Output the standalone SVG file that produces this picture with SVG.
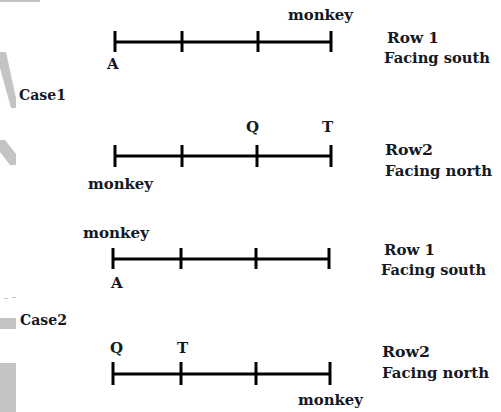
<svg xmlns="http://www.w3.org/2000/svg" width="501" height="412" viewBox="0 0 501 412">
  <style>
    .lbl { font-family: "DejaVu Serif", "Liberation Serif", serif; font-weight: bold; font-size: 15px; fill: #141824; }
    .row { stroke: #000; stroke-width: 3; fill: none; }
    .tick { stroke: #000; stroke-width: 3; }
    .smudge { fill: #c4c4c4; }
  </style>
  <rect width="501" height="412" fill="#fff"/>

  <!-- grey scan marks along the left edge -->
  <g id="edge-marks">
    <rect class="smudge" x="0" y="0" width="40" height="2"/>
    <polygon class="smudge" points="0,52 6,52 16,98 16,108 11,108 0,68"/>
    <polygon class="smudge" points="0,140 5,140 16,154 16,165 10,165 0,152"/>
    <rect class="smudge" x="4" y="298" width="4" height="1"/>
    <rect class="smudge" x="12" y="297" width="4" height="1"/>
    <rect class="smudge" x="0" y="318" width="16" height="11"/>
    <rect class="smudge" x="0" y="363" width="16" height="49"/>
  </g>

  <!-- seat lines with position ticks -->
  <g id="connectors">
    <g id="case1-row1-line">
      <line class="row" x1="115" y1="42" x2="331" y2="42"/>
      <line class="tick" x1="115" y1="31" x2="115" y2="52"/>
      <line class="tick" x1="182" y1="31" x2="182" y2="52"/>
      <line class="tick" x1="258" y1="31" x2="258" y2="52"/>
      <line class="tick" x1="331" y1="31" x2="331" y2="52"/>
    </g>
    <g id="case1-row2-line">
      <line class="row" x1="115" y1="156" x2="331" y2="156"/>
      <line class="tick" x1="115" y1="145" x2="115" y2="167"/>
      <line class="tick" x1="182" y1="145" x2="182" y2="167"/>
      <line class="tick" x1="257" y1="145" x2="257" y2="167"/>
      <line class="tick" x1="331" y1="145" x2="331" y2="167"/>
    </g>
    <g id="case2-row1-line">
      <line class="row" x1="113" y1="259" x2="329" y2="259"/>
      <line class="tick" x1="113" y1="248" x2="113" y2="269"/>
      <line class="tick" x1="181" y1="248" x2="181" y2="269"/>
      <line class="tick" x1="256" y1="248" x2="256" y2="269"/>
      <line class="tick" x1="329" y1="248" x2="329" y2="269"/>
    </g>
    <g id="case2-row2-line">
      <line class="row" x1="113" y1="374" x2="330" y2="374"/>
      <line class="tick" x1="113" y1="362" x2="113" y2="385"/>
      <line class="tick" x1="181" y1="362" x2="181" y2="385"/>
      <line class="tick" x1="256" y1="362" x2="256" y2="385"/>
      <line class="tick" x1="330" y1="362" x2="330" y2="385"/>
    </g>
  </g>

  <!-- case 1 -->
  <g id="case1">
    <text class="lbl" x="19" y="100" textLength="47" lengthAdjust="spacingAndGlyphs">Case1</text>
  </g>
  <g id="case1-row1">
    <text class="lbl" x="288" y="20" textLength="65" lengthAdjust="spacingAndGlyphs">monkey</text>
    <text class="lbl" x="107" y="69">A</text>
    <text class="lbl" x="387" y="43" textLength="52" lengthAdjust="spacingAndGlyphs">Row 1</text>
    <text class="lbl" x="384" y="63" textLength="106" lengthAdjust="spacingAndGlyphs">Facing south</text>
  </g>
  <g id="case1-row2">
    <text class="lbl" x="246" y="132">Q</text>
    <text class="lbl" x="322" y="132">T</text>
    <text class="lbl" x="88" y="189" textLength="65" lengthAdjust="spacingAndGlyphs">monkey</text>
    <text class="lbl" x="385" y="155" textLength="48" lengthAdjust="spacingAndGlyphs">Row2</text>
    <text class="lbl" x="385" y="176" textLength="107" lengthAdjust="spacingAndGlyphs">Facing north</text>
  </g>

  <!-- case 2 -->
  <g id="case2">
    <text class="lbl" x="20" y="325" textLength="47" lengthAdjust="spacingAndGlyphs">Case2</text>
  </g>
  <g id="case2-row1">
    <text class="lbl" x="83" y="238" textLength="66" lengthAdjust="spacingAndGlyphs">monkey</text>
    <text class="lbl" x="111" y="288">A</text>
    <text class="lbl" x="384" y="255" textLength="51" lengthAdjust="spacingAndGlyphs">Row 1</text>
    <text class="lbl" x="381" y="275" textLength="105" lengthAdjust="spacingAndGlyphs">Facing south</text>
  </g>
  <g id="case2-row2">
    <text class="lbl" x="110" y="353">Q</text>
    <text class="lbl" x="177" y="353">T</text>
    <text class="lbl" x="382" y="357" textLength="48" lengthAdjust="spacingAndGlyphs">Row2</text>
    <text class="lbl" x="382" y="378" textLength="107" lengthAdjust="spacingAndGlyphs">Facing north</text>
    <text class="lbl" x="298" y="405" textLength="65" lengthAdjust="spacingAndGlyphs">monkey</text>
  </g>
</svg>
